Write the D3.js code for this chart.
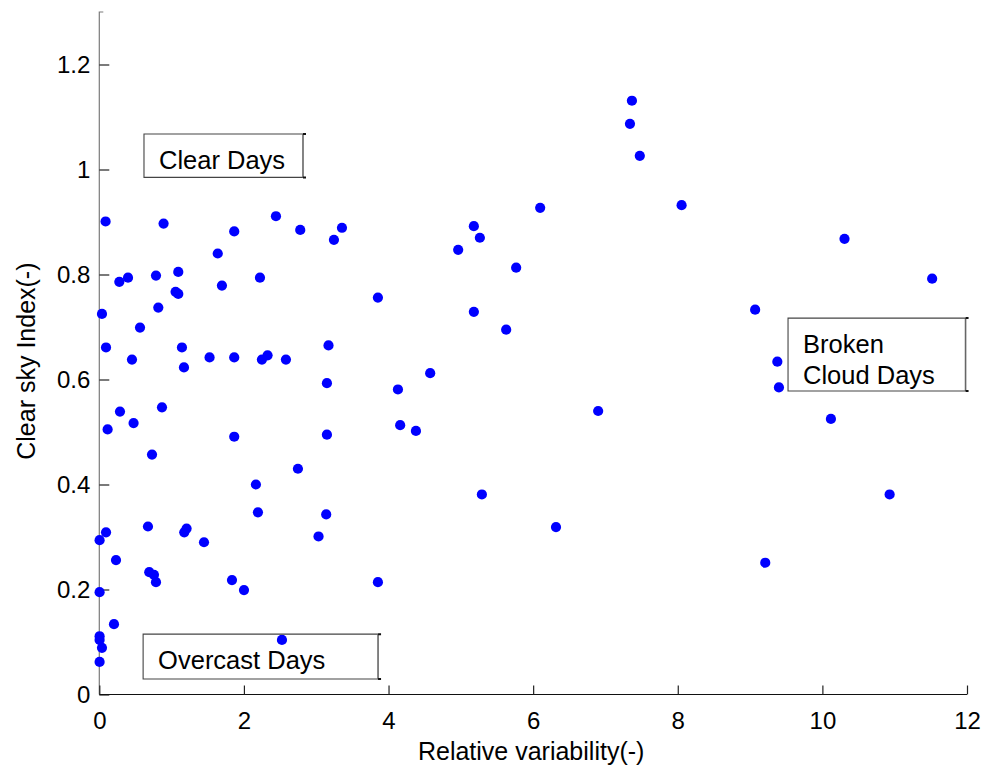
<!DOCTYPE html>
<html>
<head>
<meta charset="utf-8">
<script src="https://cdn.jsdelivr.net/npm/d3@7"></script>
<style>
  html, body { margin: 0; padding: 0; background: #fff; }
  svg { display: block; font-family: "Liberation Sans", Arial, sans-serif; }
</style>
</head>
<body>
<svg id="chart" width="984" height="769"></svg>
<script>
// Relative variability (x) versus clear sky index (y), one point per day
const relVariability = [
  0.087, 0.889, 2.443, 1.638, 1.866, 2.779, 0.277, 0.397, 0.784, 1.092,
  2.222, 0.037, 0.816, 1.055, 1.092, 1.696, 0.563, 0.093, 0.452, 1.143,
  1.171, 1.525, 1.866, 2.249, 2.327, 2.581, 3.170, 3.148, 3.148, 0.286,
  0.115, 0.474, 0.867, 0.729, 1.866, 2.747, 2.166, 2.194, 3.138, 0.673,
  0.093, 0.004, 1.175, 1.207, 1.448, 3.032, 0.231, 0.691, 0.756, 0.784,
  1.835, 2.001, 3.853, 0.004, 0.203, 0.004, 0.004, 0.037, 0.004, 2.526,
  3.356, 3.245, 5.180, 5.263, 4.963, 5.765, 6.097, 3.853, 5.180, 5.627,
  4.130, 4.576, 4.161, 4.379, 6.899, 5.291, 6.316, 9.210, 10.930,
  7.366, 7.339, 7.475, 8.053, 10.306, 11.518, 9.070, 9.377, 9.399, 10.118
];
const clearSkyIndex = [
  0.901, 0.897, 0.911, 0.840, 0.882, 0.885, 0.786, 0.794, 0.798, 0.805,
  0.794, 0.725, 0.737, 0.767, 0.763, 0.779, 0.699, 0.661, 0.638, 0.661,
  0.623, 0.642, 0.642, 0.638, 0.646, 0.638, 0.665, 0.593, 0.495, 0.539,
  0.505, 0.517, 0.547, 0.457, 0.491, 0.430, 0.400, 0.347, 0.343, 0.320,
  0.309, 0.294, 0.309, 0.316, 0.290, 0.301, 0.256, 0.233, 0.228, 0.214,
  0.218, 0.199, 0.214, 0.195, 0.134, 0.111, 0.104, 0.089, 0.062, 0.104,
  0.889, 0.866, 0.892, 0.870, 0.847, 0.813, 0.927, 0.756, 0.729, 0.695,
  0.581, 0.612, 0.513, 0.502, 0.540, 0.381, 0.319, 0.251, 0.381,
  1.131, 1.087, 1.026, 0.932, 0.868, 0.792, 0.733, 0.634, 0.585, 0.525
];

const xTicks = [0, 2, 4, 6, 8, 10, 12];
const yTicks = [0, 0.2, 0.4, 0.6, 0.8, 1, 1.2];
const yTickLabels = ["0", "0.2", "0.4", "0.6", "0.8", "1", "1.2"];

// Text boxes marking the three day types, in data units
const boxLabels = [["Clear Days"], ["Overcast Days"], ["Broken", "Cloud Days"]];
const boxX0 = [0.618, 0.606, 9.525];
const boxX1 = [2.817, 3.855, 11.98];
const boxYTop = [1.0676, 0.115, 0.717];
const boxYBottom = [0.985, 0.0295, 0.578];

const xLabel = "Relative variability(-)";
const yLabel = "Clear sky Index(-)";

const svg = d3.select("#chart");
const plotLeft = 99.3, plotRight = 967, plotBottom = 694.5, plotTop = 12;

const x = d3.scaleLinear().domain([0, 12]).range([plotLeft, plotRight]);
const y = d3.scaleLinear().domain([0, 1.3]).range([plotBottom, plotTop]);

// Y axis (ticks point inward)
const yAxis = svg.append("g")
  .attr("transform", `translate(${plotLeft},0)`)
  .call(d3.axisRight(y).tickValues(yTicks).tickSize(10).tickFormat(""));
yAxis.select(".domain").attr("stroke", "#7a7a7a").attr("stroke-width", 1.2)
  .attr("d", `M0,${plotBottom}V${plotTop}h4`);
yAxis.selectAll(".tick line").attr("stroke", "#222").attr("stroke-width", 1.2);

yAxis.selectAll(".tick").append("text")
  .attr("x", -9).attr("dy", "0.35em")
  .attr("text-anchor", "end")
  .attr("fill", "#000")
  .attr("font-size", 24)
  .attr("font-family", "Liberation Sans, Arial, sans-serif")
  .text((d, i) => yTickLabels[i]);

// X axis (ticks point inward)
const xAxis = svg.append("g")
  .attr("transform", `translate(0,${plotBottom})`)
  .call(d3.axisTop(x).tickValues(xTicks).tickSize(9).tickFormat(""));
xAxis.select(".domain").attr("stroke", "#111").attr("stroke-width", 1.2)
  .attr("d", `M${plotLeft},0H${plotRight}`);
xAxis.selectAll(".tick line").attr("stroke", "#222").attr("stroke-width", 1.2);
xAxis.selectAll(".tick").append("text")
  .attr("y", 34)
  .attr("text-anchor", "middle")
  .attr("fill", "#000")
  .attr("font-size", 24)
  .attr("font-family", "Liberation Sans, Arial, sans-serif")
  .text(d => d3.format("d")(d));

// Axis titles
svg.append("text")
  .attr("x", (plotLeft + plotRight) / 2 - 2)
  .attr("y", 760)
  .attr("text-anchor", "middle")
  .attr("font-size", 25)
  .text(xLabel);

svg.append("text")
  .attr("transform", `translate(35,${y(0.635)}) rotate(-90)`)
  .attr("text-anchor", "middle")
  .attr("font-size", 25)
  .text(yLabel);

// Points
svg.append("g").selectAll("circle")
  .data(relVariability.map((v, i) => [v, clearSkyIndex[i]]))
  .join("circle")
  .attr("cx", d => x(d[0]))
  .attr("cy", d => y(d[1]))
  .attr("r", 5.1)
  .attr("fill", "#0000ff");

// Annotation boxes
const boxes = svg.append("g");
boxLabels.forEach((lines, i) => {
  const bx0 = x(boxX0[i]), bx1 = x(boxX1[i]);
  const by0 = y(boxYTop[i]), by1 = y(boxYBottom[i]);
  const g = boxes.append("g");
  g.append("path")
    .attr("d", `M${bx1},${by0}H${bx0}V${by1}H${bx1}`)
    .attr("fill", "none").attr("stroke", "#444").attr("stroke-width", 1.1);
  g.append("path")
    .attr("d", `M${bx1},${by0}V${by1}`)
    .attr("fill", "none").attr("stroke", "#666").attr("stroke-width", 1.6);
  g.append("path")
    .attr("d", `M${bx1},${by0}h3M${bx1},${by1}h3`)
    .attr("stroke", "#111").attr("stroke-width", 2);
  lines.forEach((t, j) => {
    g.append("text")
      .attr("x", bx0 + 15)
      .attr("y", by0 + 35 + j * 31)
      .attr("font-size", 25.5)
      .attr("fill", "#000")
      .text(t);
  });
});
</script>
</body>
</html>
